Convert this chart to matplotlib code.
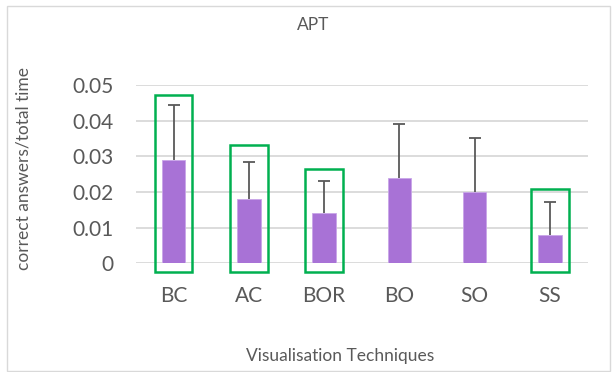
import matplotlib
matplotlib.use("Agg")
import matplotlib.pyplot as plt
from matplotlib.patches import Rectangle

categories = ["BC", "AC", "BOR", "BO", "SO", "SS"]
values = [0.029, 0.018, 0.014, 0.024, 0.020, 0.008]
errors = [0.0155, 0.0104, 0.009, 0.0152, 0.0151, 0.0091]
highlighted = ["BC", "AC", "BOR", "SS"]
highlight_tops = [0.0473, 0.0331, 0.0264, 0.0209]
yticks = [0, 0.01, 0.02, 0.03, 0.04, 0.05]
ytick_labels = ["0", "0.01", "0.02", "0.03", "0.04", "0.05"]

plt.rcParams['font.family'] = ['Lato', 'DejaVu Sans']

fig = plt.figure(figsize=(6.13, 3.72), dpi=100)
# outer chart border
fig.patches.append(Rectangle((7/613, 1.3/372), 603/613, 364.7/372, transform=fig.transFigure,
                             fill=False, edgecolor="#D9D9D9", lw=1.0))

ax = fig.add_axes([136/613, 108.7/372, 451.5/613, 178.3/372])
x = list(range(len(categories)))
ax.bar(x, values, width=0.315, color="#A872D6", edgecolor="#C9A6E8", lw=0.6, zorder=3)
tops = [v + e for v, e in zip(values, errors)]
ax.vlines(x, values, tops, colors="#595959", lw=1.3, zorder=4)
ax.plot(x, tops, ls="none", marker="_", markersize=8, markeredgewidth=1.3,
        color="#595959", zorder=4)

for cat, top in zip(highlighted, highlight_tops):
    i = categories.index(cat)
    ax.add_patch(Rectangle((i - 0.25, -0.0025), 0.5, top + 0.0025, fill=False,
                           edgecolor="#00B050", lw=1.8, clip_on=False, zorder=5))

ax.set_xlim(-0.5, len(categories) - 0.5)
ax.set_ylim(0, 0.05)
ax.set_yticks(yticks)
ax.set_yticklabels(ytick_labels)
ax.set_xticks(x)
ax.set_xticklabels(categories)
ax.tick_params(axis='both', length=0, labelsize=15, colors="#595959")
ax.tick_params(axis='y', pad=16)
ax.tick_params(axis='x', pad=16)
for s in ax.spines.values():
    s.set_visible(False)
ax.grid(axis='y', color="#D9D9D9", lw=1.3, zorder=0)
ax.set_axisbelow(True)

fig.text(313/613, 1 - 25/372, "APT", ha="center", va="center", fontsize=12.5, color="#595959")
fig.text(23.5/613, 1 - 168/372, "correct answers/total time", rotation=90, ha="center",
         va="center", fontsize=12.5, color="#595959")
fig.text(340.5/613, 1 - 356.5/372, "Visualisation Techniques", ha="center", va="center",
         fontsize=12.5, color="#595959")

fig.savefig("out.png", dpi=100)
